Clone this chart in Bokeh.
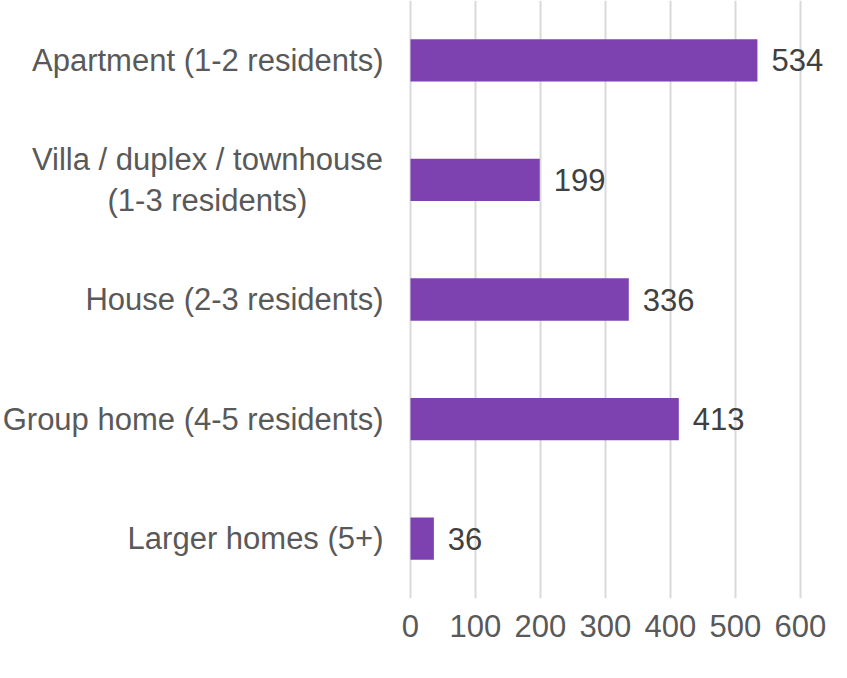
from bokeh.plotting import figure
from bokeh.models import FactorRange, Range1d, FixedTicker, ColumnDataSource
from bokeh.core.properties import value
from bokeh.embed import file_html
from bokeh.resources import INLINE

categories = [
    "Apartment (1-2 residents)",
    "Villa / duplex / townhouse\n(1-3 residents)",
    "House (2-3 residents)",
    "Group home (4-5 residents)",
    "Larger homes (5+)",
]
counts = [534, 199, 336, 413, 36]
x_ticks = [0, 100, 200, 300, 400, 500, 600]

FONT = value("Liberation Sans")
BAR = "#7E42B0"

src = ColumnDataSource(dict(cat=categories, n=counts, zero=[0] * len(counts),
                            lab=[str(c) for c in counts]))
single = [c for c in categories if "\n" not in c]
multi = [c for c in categories if "\n" in c]
src_single = ColumnDataSource(dict(cat=single, zero=[0] * len(single)))
src_multi = ColumnDataSource(dict(cat=multi, zero=[0] * len(multi)))

p = figure(width=831, height=662, output_backend="svg", toolbar_location=None,
           y_range=FactorRange(factors=list(reversed(categories)), range_padding=0),
           x_range=Range1d(-631, 648), y_axis_location=None,
           min_border_left=0, min_border_right=0, min_border_top=0, min_border_bottom=64)
p.outline_line_color = None
p.background_fill_color = "white"
p.border_fill_color = "white"

p.hbar(y="cat", left="zero", right="n", height=0.354, source=src,
       fill_color=BAR, line_color=None)

p.text(x="n", y="cat", text="lab", source=src, x_offset=14,
       text_align="left", text_baseline="middle", text_font=FONT,
       text_font_size="31px", text_color="#404040")

p.text(x="zero", y="cat", text="cat", source=src_single, x_offset=-27,
       text_align="right", text_baseline="middle", text_font=FONT,
       text_font_size="31px", text_color="#595959")
p.text(x="zero", y="cat", text="cat", source=src_multi, x_offset=-203,
       text_align="center", text_baseline="middle", text_font=FONT,
       text_font_size="31px", text_color="#595959", text_line_height=1.17)

ax = p.xaxis[0]
ax.ticker = FixedTicker(ticks=x_ticks)
ax.axis_line_color = None
ax.major_tick_line_color = None
ax.minor_tick_line_color = None
ax.major_tick_in = 0
ax.major_tick_out = 0
ax.major_label_standoff = 16
ax.major_label_text_font = "Liberation Sans"
ax.major_label_text_font_size = "31px"
ax.major_label_text_color = "#595959"

p.xgrid.grid_line_color = "#D9D9D9"
p.xgrid.grid_line_width = 2
p.ygrid.grid_line_color = None

open("out.html", "w").write(file_html(p, INLINE))
